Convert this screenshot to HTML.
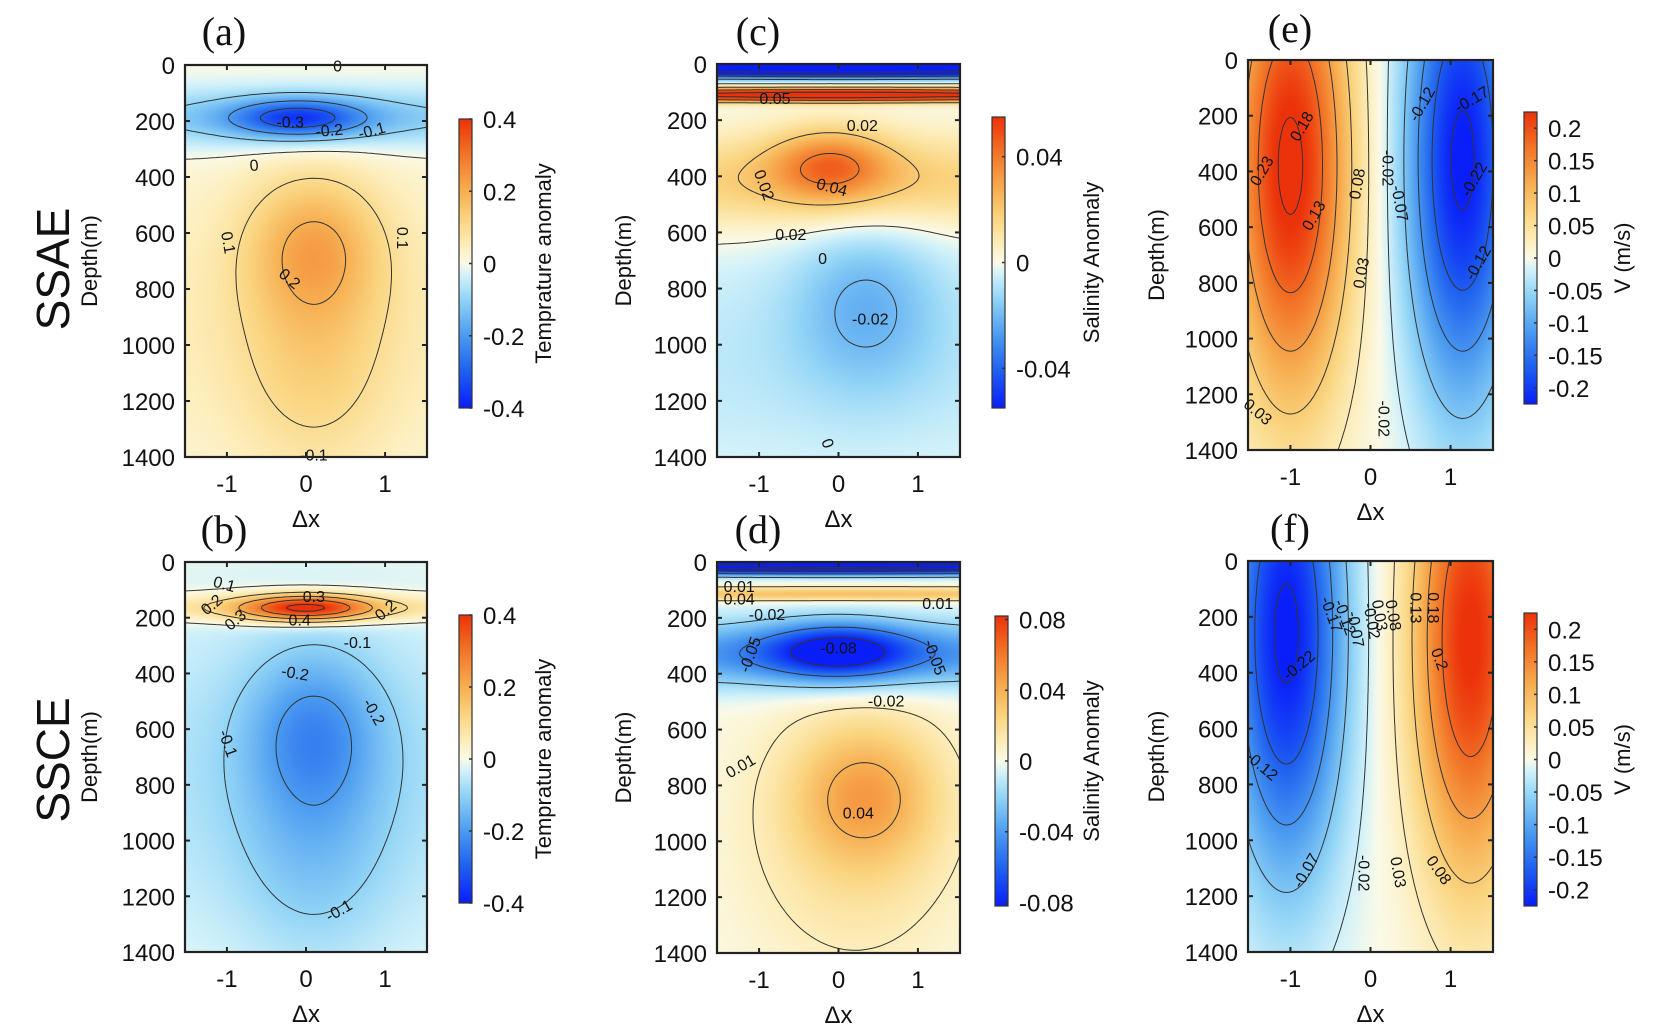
<!DOCTYPE html>
<html><head><meta charset="utf-8">
<style>
html,body{margin:0;padding:0;background:#fff;}
#wrap{position:relative;width:1654px;height:1032px;overflow:hidden;font-family:"Liberation Sans",sans-serif;}
canvas{position:absolute;}
svg{position:absolute;left:0;top:0;}
</style></head>
<body>
<div id="wrap">
<svg id="ov" width="1654" height="1032"></svg>
</div>
<script>
// ---- data: blob components [amplitude, x-center, depth-center, x-width, depth-width]
const blobsA=[[-0.26,-0.1,190,0.85,70],[-0.13,0,190,5,110],[0.15,0.1,640,0.85,260],[0.09,0.1,1050,1.0,450],[0.05,0,900,5,600]];
const blobsB=[[0.38,0,165,0.85,50],[0.10,0,165,5,50],[-0.15,0.1,600,0.85,300],[-0.08,0.1,1050,1.0,420],[-0.07,0,750,5,650]];
const blobsC=[[-0.11,0,10,5,35],[0.07,0,110,5,25],[0.03,-0.1,360,0.75,130],[0.02,0,420,5,170],[-0.016,0.35,850,0.9,300],[-0.008,0,1050,5,450]];
const blobsD=[[-0.16,0,5,5,35],[0.035,0,115,5,25],[-0.06,0,320,0.9,100],[-0.045,0,330,5,120],[0.033,0.35,830,0.9,250],[0.018,0.2,1000,1.4,500]];
const blobsE=[[0.24,-1.0,380,0.75,850],[-0.23,1.15,360,0.7,850]];
const blobsF=[[-0.23,-1.05,260,0.72,850],[0.23,1.25,280,0.72,850]];
// contour levels
const levelsAB=[-0.3,-0.2,-0.1,0,0.1,0.2,0.3,0.4];
const levelsC=[-0.08,-0.06,-0.04,-0.02,0,0.02,0.04,0.06];
const levelsD=[-0.14,-0.11,-0.08,-0.05,-0.02,0.01,0.04];
const levelsEF=[-0.22,-0.17,-0.12,-0.07,-0.02,0.03,0.08,0.13,0.18,0.23];
// axis ticks
const depthTicks=[0,200,400,600,800,1000,1200,1400];
const xTicks=[-1,0,1];
const cbTicksT=[-0.4,-0.2,0,0.2,0.4];
const cbTicksS1=[-0.04,0,0.04];
const cbTicksS2=[-0.08,-0.04,0,0.04,0.08];
const cbTicksV=[-0.2,-0.15,-0.1,-0.05,0,0.05,0.1,0.15,0.2];
// contour labels [text, x, depth, angle]
const labA=[["0",0.4,5,0],["-0.3",-0.2,205,0],["-0.2",0.3,235,-5],["-0.1",0.85,235,-15],["0",-0.65,360,-5],["0.1",-1.05,620,80],["0.1",1.15,600,90],["0.2",-0.25,760,40],["-0.1",0.1,1395,0]];
const labB=[["0.1",-1.05,80,15],["0.2",-1.15,150,-40],["0.3",0.1,125,0],["0.3",-0.85,205,-40],["0.4",-0.08,210,0],["0.2",1.05,170,-40],["-0.1",0.65,290,0],["-0.2",-0.15,400,10],["-0.2",0.8,530,60],["-0.1",-1.05,640,70],["-0.1",0.45,1250,-30]];
const labC=[["0.05",-0.8,125,0],["0.02",0.3,220,0],["0.02",-1.0,420,70],["0.04",-0.1,440,15],["0.02",-0.6,610,0],["0",-0.2,695,0],["-0.02",0.4,910,0],["0",-0.2,1340,70]];
const labD=[["0.01",-1.25,90,0],["0.04",-1.25,135,0],["-0.02",-0.9,190,0],["0.01",1.25,150,0],["-0.08",0,310,0],["-0.05",-1.05,320,-70],["-0.05",1.15,330,70],["-0.02",0.6,500,0],["0.01",-1.2,730,-30],["0.04",0.25,900,0]];
const labE=[["0.23",-1.3,390,-60],["0.18",-0.8,230,-60],["0.13",-0.65,550,-60],["0.08",-0.1,430,-80],["0.03",-0.05,750,-80],["-0.02",0.15,370,90],["-0.07",0.3,500,80],["-0.12",0.7,150,-60],["-0.17",1.3,140,-30],["-0.22",1.35,420,-60],["-0.12",1.4,720,-60],["0.03",-1.45,1260,40],["-0.02",0.1,1270,90]];
const labF=[["-0.22",-0.85,370,-40],["-0.17",-0.55,180,70],["-0.12",-0.38,190,70],["-0.07",-0.25,230,80],["-0.02",-0.05,200,80],["0.03",0.05,180,80],["0.08",0.22,180,80],["0.13",0.5,150,90],["0.18",0.72,150,90],["0.2",0.8,340,70],["-0.12",-1.4,730,40],["-0.07",-0.75,1100,-60],["-0.02",-0.15,1100,90],["0.03",0.28,1100,80],["0.08",0.8,1100,55]];

const panels=[
 {id:'a',blobs:blobsA,lv:levelsAB,cmax:0.4,cb:cbTicksT,cbl:"Temprature anomaly",lab:labA,x0:185,x1:427,y0:65,y1:457,cbx:459,cby0:119,cby1:408,dl:97,cbt:551,title:"(a)",tx:224,ty:33},
 {id:'b',blobs:blobsB,lv:levelsAB,cmax:0.4,cb:cbTicksT,cbl:"Temprature anomaly",lab:labB,x0:185,x1:427,y0:562,y1:952,cbx:459,cby0:615,cby1:903,dl:97,cbt:551,title:"(b)",tx:224,ty:531},
 {id:'c',blobs:blobsC,lv:levelsC,cmax:0.055,cb:cbTicksS1,cbl:"Salinity Anomaly",lab:labC,x0:717,x1:960,y0:64,y1:457,cbx:992,cby0:117,cby1:408,dl:631,cbt:1099,title:"(c)",tx:758,ty:33},
 {id:'d',blobs:blobsD,lv:levelsD,cmax:0.082,cb:cbTicksS2,cbl:"Salinity Anomaly",lab:labD,x0:717,x1:960,y0:562,y1:953,cbx:995,cby0:616,cby1:906,dl:631,cbt:1099,title:"(d)",tx:758,ty:531},
 {id:'e',blobs:blobsE,lv:levelsEF,cmax:0.225,cb:cbTicksV,cbl:"V (m/s)",lab:labE,x0:1248,x1:1493,y0:60,y1:450,cbx:1524,cby0:112,cby1:404,dl:1164,cbt:1630,title:"(e)",tx:1290,ty:30},
 {id:'f',blobs:blobsF,lv:levelsEF,cmax:0.225,cb:cbTicksV,cbl:"V (m/s)",lab:labF,x0:1248,x1:1493,y0:561,y1:952,cbx:1524,cby0:613,cby1:906,dl:1164,cbt:1630,title:"(f)",tx:1290,ty:530}
];
const XMIN=-1.53,XMAX=1.53,ZMAX=1400;
const stops=[[-1,[10,30,250]],[-0.75,[30,95,240]],[-0.5,[75,155,240]],[-0.25,[145,212,246]],[-0.08,[210,242,250]],[0,[250,250,232]],[0.12,[253,238,188]],[0.3,[250,214,130]],[0.5,[247,175,82]],[0.75,[242,118,40]],[1,[236,50,10]]];
function cmap(t){t=Math.max(-1,Math.min(1,t));for(let i=1;i<stops.length;i++){if(t<=stops[i][0]){const a=stops[i-1],b=stops[i];const f=(t-a[0])/(b[0]-a[0]);return [0,1,2].map(k=>Math.round(a[1][k]+(b[1][k]-a[1][k])*f));}}return stops[stops.length-1][1];}
function field(bl,x,z){let v=0;for(const b of bl){const dx=(x-b[1])/b[3],dz=(z-b[2])/b[4];v+=b[0]*Math.exp(-dx*dx-dz*dz);}return v;}
const NS='http://www.w3.org/2000/svg';
const ov=document.getElementById('ov');const wrap=document.getElementById('wrap');
function el(tag,attrs,parent){const e=document.createElementNS(NS,tag);for(const k in attrs)e.setAttribute(k,attrs[k]);(parent||ov).appendChild(e);return e;}
function txt(s,x,y,size,anchor,rot,parent,family){const t=el('text',{x:x,y:y,'font-size':size,'text-anchor':anchor||'middle','font-family':family||'"Liberation Sans",sans-serif',fill:'#111'},parent);if(rot)t.setAttribute('transform',`rotate(${rot} ${x} ${y})`);t.textContent=s;return t;}

panels.forEach(p=>{
 const sx=x=>p.x0+(x-XMIN)/(XMAX-XMIN)*(p.x1-p.x0);
 const sz=z=>p.y0+z/ZMAX*(p.y1-p.y0);
 const W=p.x1-p.x0,H=p.y1-p.y0;
 const cv=document.createElement('canvas');cv.width=W;cv.height=H;cv.style.left=p.x0+'px';cv.style.top=p.y0+'px';
 
 
 wrap.insertBefore(cv,ov);
 const ctx=cv.getContext('2d');const img=ctx.createImageData(W,H);
 for(let j=0;j<H;j++){const z=(j+0.5)/H*ZMAX;for(let i=0;i<W;i++){const x=XMIN+(i+0.5)/W*(XMAX-XMIN);const c=cmap(field(p.blobs,x,z)/p.cmax);const k=(j*W+i)*4;img.data[k]=c[0];img.data[k+1]=c[1];img.data[k+2]=c[2];img.data[k+3]=255;}}
 ctx.putImageData(img,0,0);
 const g=el('g',{});  
 const NX=70,NZ=160;const gv=[];
 for(let j=0;j<=NZ;j++){gv.push([]);for(let i=0;i<=NX;i++)gv[j].push(field(p.blobs,XMIN+i/NX*(XMAX-XMIN),j/NZ*ZMAX));}
 const gx=i=>sx(XMIN+i/NX*(XMAX-XMIN)),gz=j=>sz(j/NZ*ZMAX);
 p.lv.forEach(L=>{let d='';
  for(let j=0;j<NZ;j++)for(let i=0;i<NX;i++){
   const c=[[i,j],[i+1,j],[i+1,j+1],[i,j+1]];const pts=[];
   for(let e=0;e<4;e++){const a=c[e],b=c[(e+1)%4];const va=gv[a[1]][a[0]],vb=gv[b[1]][b[0]];
    if((va-L)*(vb-L)<0){const f=(L-va)/(vb-va);pts.push([gx(a[0])+(gx(b[0])-gx(a[0]))*f,gz(a[1])+(gz(b[1])-gz(a[1]))*f]);}}
   for(let q=0;q+1<pts.length;q+=2)d+=`M${pts[q][0].toFixed(1)},${pts[q][1].toFixed(1)}L${pts[q+1][0].toFixed(1)},${pts[q+1][1].toFixed(1)}`;}
  if(d){const pa=el('path',{d:d,stroke:'#333','stroke-width':1,fill:'none'},g);
   
   }
 });
 p.lab.forEach(l=>{const t=txt(l[0],sx(l[1]),sz(l[2])+5,16,'middle',l[3],g);
   
   });
 const bx=el('rect',{x:p.x0,y:p.y0,width:W,height:H,fill:'none',stroke:'#222','stroke-width':2.2},g);
 
 
 depthTicks.forEach(z=>{const y=sz(z);
  el('line',{x1:p.x0,y1:y,x2:p.x0+5,y2:y,stroke:'#222','stroke-width':2},g);
  el('line',{x1:p.x1,y1:y,x2:p.x1-5,y2:y,stroke:'#222','stroke-width':2},g);
  const t=txt(String(z),p.x0-10,y+9,24,'end',0,g);
  
  });
 xTicks.forEach(x=>{const X=sx(x);
  el('line',{x1:X,y1:p.y1,x2:X,y2:p.y1-5,stroke:'#222','stroke-width':2},g);
  el('line',{x1:X,y1:p.y0,x2:X,y2:p.y0+5,stroke:'#222','stroke-width':2},g);
  const t=txt(String(x),X,p.y1+35,24,'middle',0,g);
  
  });
 const xl=txt('Δx',(p.x0+p.x1)/2,p.y1+70,24,'middle',0,g);
 
 
 const yl=txt('Depth(m)',p.dl,(p.y0+p.y1)/2,22,'middle',-90,g);
 
 
 const ti=txt(p.title,p.tx,p.ty+12,40,'middle',0,g,'"Liberation Serif",serif');
 
 
 const cbw=13,cbh=p.cby1-p.cby0;
 const cc=document.createElement('canvas');cc.width=cbw;cc.height=cbh;cc.style.left=p.cbx+'px';cc.style.top=p.cby0+'px';
 
 
 wrap.insertBefore(cc,ov);
 const c2=cc.getContext('2d');
 for(let j=0;j<cbh;j++){const c=cmap(1-2*(j+0.5)/cbh);c2.fillStyle=`rgb(${c[0]},${c[1]},${c[2]})`;c2.fillRect(0,j,cbw,1);}
 el('rect',{x:p.cbx,y:p.cby0,width:cbw,height:cbh,fill:'none',stroke:'#333','stroke-width':1.2},g);
 const cy=v=>p.cby0+(p.cmax-v)/(2*p.cmax)*cbh;
 p.cb.forEach(v=>{const y=cy(v);el('line',{x1:p.cbx+cbw,y1:y,x2:p.cbx+cbw-3,y2:y,stroke:'#333','stroke-width':1.5},g);
  const t=txt(String(v),p.cbx+cbw+11,y+9,24,'start',0,g);
  
  });
 const cl=txt(p.cbl,p.cbt,(p.cby0+p.cby1)/2,22,'middle',-90,g);
 
 
});
const r1=txt('SSAE',53,269+16,46,'middle',0);


r1.setAttribute('transform','rotate(-90 53 269)');
const r2=txt('SSCE',53,760+16,46,'middle',0);


r2.setAttribute('transform','rotate(-90 53 760)');
</script>
</body></html>
